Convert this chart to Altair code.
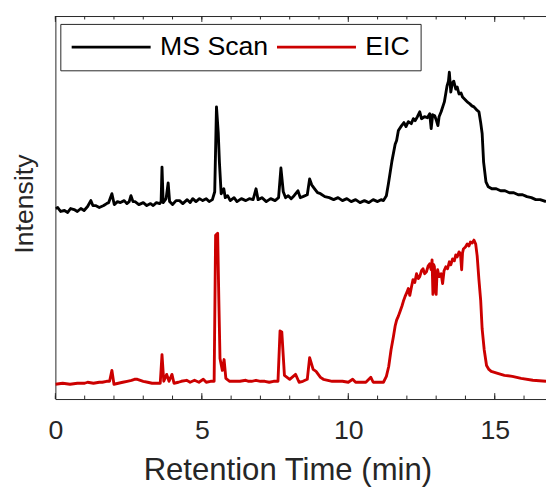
import altair as alt
import pandas as pd

# ---- data ----
ms_time = [0.0, 0.08, 0.18, 0.31, 0.42, 0.52, 0.64, 0.75, 0.87, 0.98, 1.1, 1.21, 1.28, 1.37, 1.5,
           1.65, 1.75, 1.82, 1.93, 2.01, 2.12, 2.22, 2.35, 2.44, 2.52, 2.58, 2.65, 2.72, 2.85, 3.0,
           3.12, 3.25, 3.34, 3.45, 3.56, 3.61, 3.64, 3.68, 3.78, 3.85, 3.9, 4.0, 4.12, 4.24, 4.35,
           4.5, 4.6, 4.69, 4.8, 4.92, 5.03, 5.15, 5.25, 5.36, 5.44, 5.5, 5.56, 5.6, 5.66, 5.75,
           5.8, 5.88, 5.97, 6.1, 6.2, 6.35, 6.5, 6.62, 6.75, 6.85, 6.92, 7.05, 7.2, 7.35, 7.5,
           7.62, 7.7, 7.78, 7.86, 7.95, 8.05, 8.15, 8.28, 8.36, 8.45, 8.6, 8.68, 8.75, 8.85, 8.95,
           9.05, 9.2, 9.35, 9.5, 9.65, 9.8, 9.95, 10.1, 10.25, 10.4, 10.55, 10.7, 10.85, 11.0,
           11.12, 11.2, 11.3, 11.37, 11.49, 11.6, 11.65, 11.71, 11.82, 11.9, 11.97, 12.05, 12.15,
           12.22, 12.28, 12.36, 12.44, 12.5, 12.6, 12.7, 12.78, 12.83, 12.88, 12.95, 13.0, 13.06,
           13.1, 13.17, 13.28, 13.37, 13.42, 13.45, 13.5, 13.55, 13.6, 13.67, 13.72, 13.78, 13.85,
           13.9, 14.0, 14.06, 14.15, 14.22, 14.29, 14.38, 14.46, 14.52, 14.57, 14.62, 14.7, 14.78,
           14.9, 15.05, 15.2, 15.35, 15.5, 15.65, 15.8, 15.95, 16.1, 16.25, 16.4, 16.55, 16.75]
ms_int = [193, 194, 190, 191, 189, 193, 192, 190, 193, 191, 195, 201, 196, 196, 194,
          196, 198, 199, 208, 197, 200, 199, 201, 198, 200, 206, 200, 200, 197, 199,
          196, 198, 196, 199, 198, 200, 235, 199, 203, 219, 200, 197, 201, 201, 198,
          202, 199, 203, 200, 203, 201, 203, 200, 202, 210, 296, 270, 240, 208, 213,
          204, 206, 201, 204, 200, 203, 201, 203, 202, 213, 202, 204, 200, 203, 201,
          204, 234, 210, 204, 206, 203, 206, 211, 204, 205, 207, 223, 217, 213, 209,
          208, 205, 204, 202, 204, 201, 203, 200, 202, 199, 201, 199, 202, 200,
          202, 201, 206, 218, 241, 258, 262, 272, 277, 280, 276, 281, 279,
          284, 282, 286, 291, 284, 286, 285, 289, 274, 288, 287, 283, 277,
          286, 291, 301, 317, 322, 331, 311, 320, 322, 314, 316, 309, 310,
          306, 303, 301, 299, 297, 296, 293, 291, 280, 269, 240, 220, 215,
          213, 213, 211, 211, 209, 209, 207, 207, 205, 204, 202, 202, 200]

eic_time = [0.0, 0.25, 0.5, 0.75, 1.0, 1.1, 1.3, 1.5, 1.6, 1.75, 1.85, 1.93, 2.0, 2.15, 2.3, 2.45,
            2.6, 2.7, 2.8, 2.9, 3.0, 3.15, 3.3, 3.45, 3.58, 3.64, 3.7, 3.8, 3.88, 3.98, 4.05, 4.2,
            4.3, 4.48, 4.6, 4.75, 4.9, 5.05, 5.15, 5.3, 5.42, 5.47, 5.54, 5.58, 5.62, 5.7, 5.76,
            5.82, 5.95, 6.1, 6.3, 6.5, 6.6, 6.7, 6.85, 7.0, 7.15, 7.3, 7.45, 7.6, 7.67, 7.73, 7.82,
            8.0, 8.2, 8.32, 8.45, 8.6, 8.68, 8.8, 8.9, 9.05, 9.15, 9.3, 9.45, 9.6, 9.8, 10.0, 10.15,
            10.25, 10.4, 10.6, 10.77, 10.85, 11.0, 11.2, 11.3, 11.38, 11.46, 11.54, 11.6, 11.65,
            11.71, 11.77, 11.83, 11.88, 11.94, 12.0, 12.05, 12.1, 12.16, 12.21, 12.27, 12.33, 12.39,
            12.44, 12.5, 12.55, 12.61, 12.67, 12.73, 12.78, 12.83, 12.86, 12.89, 12.92, 12.94,
            12.97, 13.0, 13.03, 13.05, 13.1, 13.17, 13.22, 13.27, 13.33, 13.39, 13.45, 13.5, 13.56,
            13.62, 13.67, 13.72, 13.78, 13.83, 13.87, 13.9, 13.93, 14.0, 14.06, 14.12, 14.17, 14.23,
            14.29, 14.35, 14.4, 14.46, 14.52, 14.57, 14.64, 14.72, 14.8, 14.88, 15.1, 15.33, 15.6,
            15.9, 16.3, 16.75]
eic_int = [15, 16, 15, 16, 16, 17, 16, 17, 17, 18, 18, 29, 15, 16, 17, 18,
           19, 20, 20, 19, 18, 17, 16, 16, 16, 45, 18, 25, 18, 25, 16, 17,
           18, 19, 17, 19, 17, 20, 17, 18, 18, 166, 168, 101, 41, 29, 40,
           21, 18, 18, 18, 19, 18, 18, 19, 18, 18, 17, 18, 18, 69, 68, 24,
           20, 25, 17, 18, 20, 42, 30, 28, 22, 20, 19, 18, 18, 18, 17, 20,
           17, 17, 17, 22, 17, 17, 17, 23, 33, 50, 63, 74, 80,
           84, 89, 94, 99, 104, 108, 112, 105, 114, 121, 118, 127, 122,
           124, 130, 132, 127, 129, 135, 137, 131, 141, 106, 136, 134,
           112, 106, 128, 131, 124, 127, 117, 130, 134, 132, 139, 136, 142,
           140, 146, 144, 149, 147, 131, 148, 152, 154, 157, 155, 159, 158,
           161, 157, 145, 121, 100, 71, 50, 34, 30, 28, 26, 24, 23,
           21, 19, 18]

series_names = ["MS Scan", "EIC"]
series_colors = ["#000000", "#CC0000"]

x_major = [0, 5, 10, 15]
x_minor = list(range(0, 17))

rows = [{"t": t, "v": v, "series": "MS Scan"} for t, v in zip(ms_time, ms_int)]
rows += [{"t": t, "v": v, "series": "EIC"} for t, v in zip(eic_time, eic_int)]
df = pd.DataFrame(rows)

W, H = 497, 388
FONT = "Liberation Sans"
AX = "#262626"
xscale = alt.Scale(domain=[0, 16.75], nice=False, zero=False)

lines = alt.Chart(df).mark_line(strokeWidth=2.9, clip=True, strokeJoin="round").encode(
    x=alt.X("t:Q", scale=xscale,
            axis=alt.Axis(orient="bottom", values=x_major, ticks=False, grid=False,
                          labelFontSize=27, labelFont=FONT, labelColor=AX, labelPadding=19,
                          labelFlush=False, domainColor=AX, domainWidth=1,
                          title="Retention Time (min)", titleFontSize=31.5, titleFont=FONT,
                          titleFontWeight="normal", titleColor=AX, titleX=235, titleY=82,
                          titleBaseline="alphabetic", titleAlign="center")),
    y=alt.Y("v:Q", scale=alt.Scale(domain=[0, H], nice=False),
            axis=alt.Axis(labels=False, ticks=False, grid=False, domainColor=AX, domainWidth=1,
                          title="Intensity", titleFontSize=27, titleFont=FONT,
                          titleFontWeight="normal", titleColor=AX, titleAngle=270,
                          titleX=-23, titleY=190, titleBaseline="alphabetic",
                          titleAlign="center")),
    color=alt.Color("series:N", sort=series_names,
                    scale=alt.Scale(domain=series_names, range=series_colors),
                    legend=alt.Legend(title=None, orient="none", legendX=5, legendY=8,
                                      direction="horizontal", symbolType="stroke",
                                      symbolSize=6400, symbolStrokeWidth=2.6, clipHeight=27,
                                      labelFontSize=27, labelFont=FONT, labelColor="#000000",
                                      labelOffset=8, columnPadding=7, padding=10,
                                      strokeColor=AX, fillColor="white", cornerRadius=0)),
)

minor_df = pd.DataFrame({"pos": x_minor})
major_df = pd.DataFrame({"pos": x_major})

top_axis = alt.Axis(orient="top", labels=False, ticks=False, grid=False, domainColor=AX,
                    domainWidth=1, title=None)

minor_bottom = alt.Chart(minor_df).mark_rule(color=AX, strokeWidth=1).encode(
    x=alt.X("pos:Q", scale=xscale, axis=top_axis),
    y=alt.value(H), y2=alt.value(H - 3.5))
minor_top = alt.Chart(minor_df).mark_rule(color=AX, strokeWidth=1).encode(
    x=alt.X("pos:Q", scale=xscale, axis=None),
    y=alt.value(0), y2=alt.value(3.5))
major_bottom = alt.Chart(major_df).mark_rule(color=AX, strokeWidth=1).encode(
    x=alt.X("pos:Q", scale=xscale, axis=None),
    y=alt.value(H), y2=alt.value(H - 6))
major_top = alt.Chart(major_df).mark_rule(color=AX, strokeWidth=1).encode(
    x=alt.X("pos:Q", scale=xscale, axis=None),
    y=alt.value(0), y2=alt.value(6))

chart = alt.layer(lines, minor_bottom, minor_top, major_bottom, major_top).resolve_axis(
    x="independent"
).properties(
    width=W, height=H,
    autosize=alt.AutoSizeParams(type="none"),
    padding={"left": 48, "top": 5, "right": 0, "bottom": 88},
    background="white",
).configure_view(stroke=None)

chart.save("out.html", embed_options={"renderer": "svg", "actions": False})
